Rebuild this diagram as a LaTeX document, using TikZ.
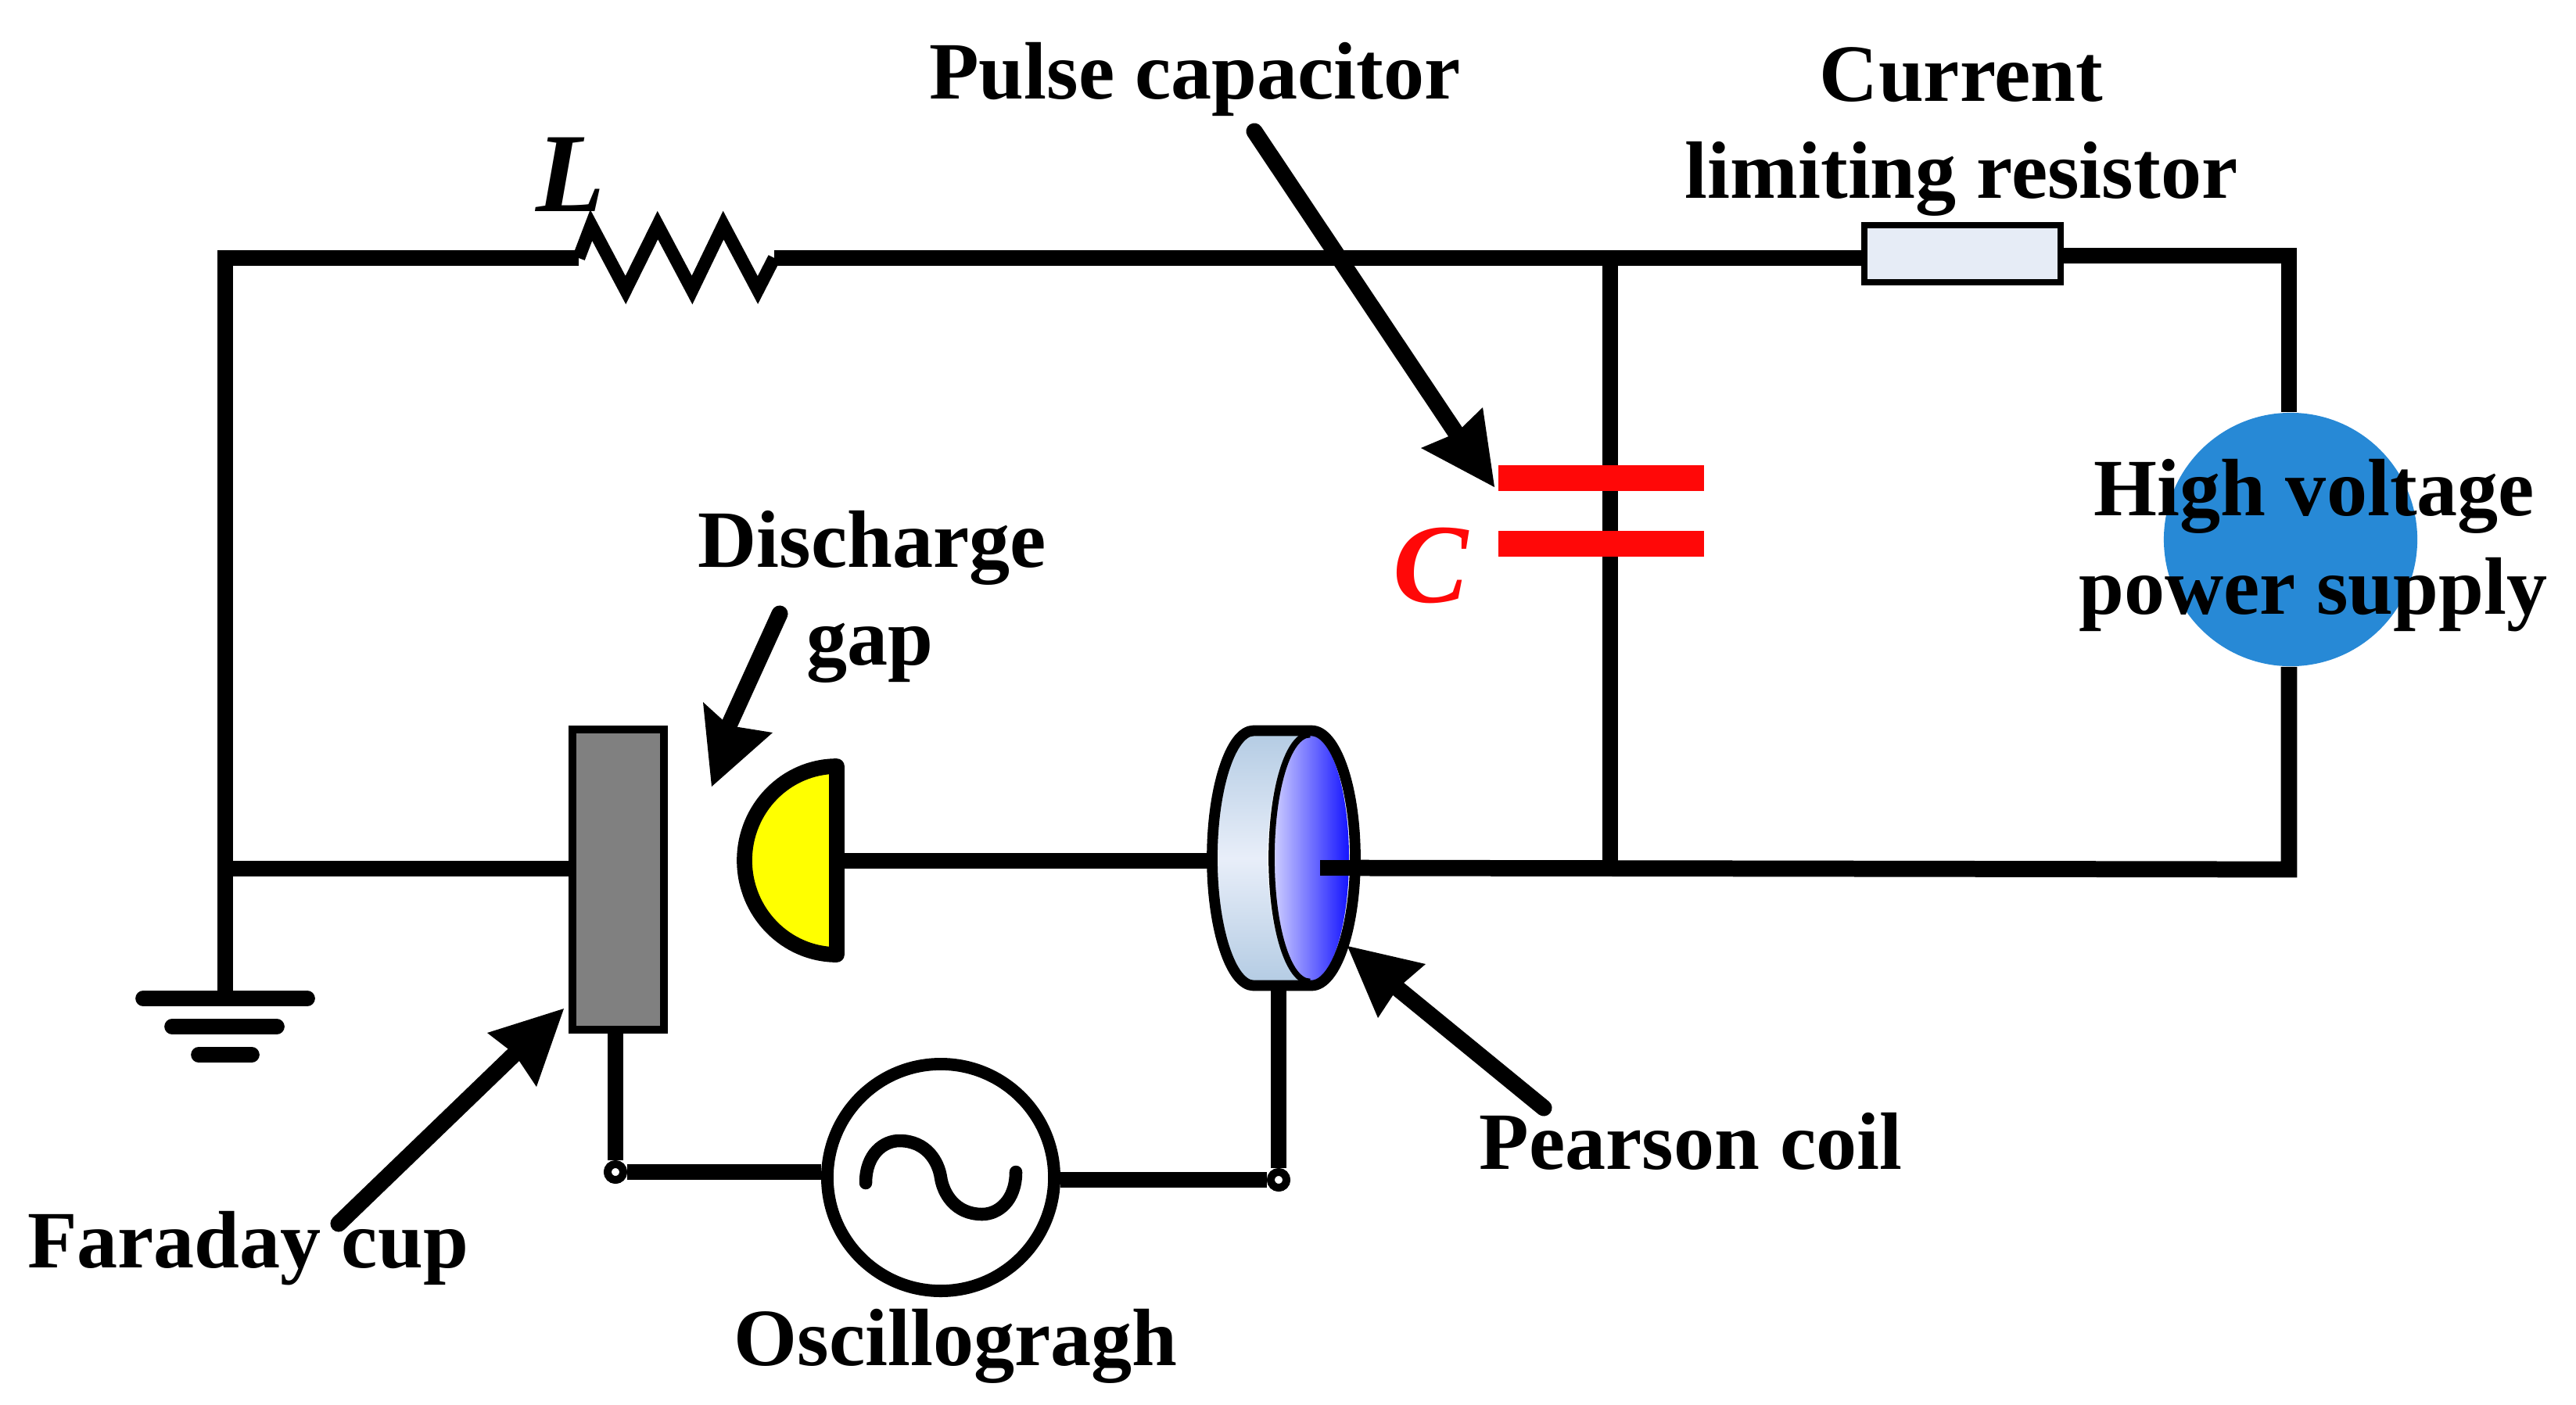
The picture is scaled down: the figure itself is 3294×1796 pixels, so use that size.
\documentclass[tikz,border=0pt]{standalone}
\usepackage{fontspec}
\setmainfont{Liberation Serif}
\definecolor{hvblue}{HTML}{2789D6}
\definecolor{resfill}{HTML}{E6ECF6}
\definecolor{coldark}{HTML}{B3CBE3}
\definecolor{collight}{HTML}{E8EEF9}
\definecolor{blueL}{HTML}{D4D4FF}
\definecolor{blueR}{HTML}{1414FF}
\definecolor{capred}{HTML}{FF0808}
\definecolor{gapyellow}{HTML}{FFFF00}
\tikzset{
 x=0.01cm,y=-0.01cm,
 wire/.style={line width=5.9pt,line join=miter,line cap=butt},
 coilwire/.style={line width=4.7pt,line join=miter,miter limit=10,line cap=butt},
 gbar/.style={line width=5.6pt,line cap=round},
 lbl/.style={font=\fontsize{29.6pt}{35.5pt}\selectfont\bfseries,inner sep=0pt,align=center,text=black,anchor=base},
 sym/.style={font=\fontsize{41pt}{41pt}\selectfont\bfseries\itshape,inner sep=0pt,anchor=base},
 head/.style={fill=black,draw=none},
 shaft/.style={line width=6pt,line cap=round},
 plate/.style={fill=capred,draw=none,minimum width=2.63cm,minimum height=0.33cm,inner sep=0pt},
 dot/.style={circle,draw=black,fill=white,line width=2.8pt,minimum size=0.2cm,inner sep=0pt},
}
\begin{document}
\begin{tikzpicture}
\useasboundingbox (0,0) rectangle (3294,1796);
% coordinates
\coordinate (tl) at (288,330);
\coordinate (lind) at (740,330);
\coordinate (rind) at (990,330);
\coordinate (tjun) at (2059,330);
\coordinate (bjun) at (2059,1110);
\coordinate (tr) at (2927,327);
\coordinate (br) at (2927,1112);
\coordinate (gnd) at (288,1277);
\coordinate (bl) at (288,1111);
\coordinate (gapR) at (1079,1101);
\coordinate (coilL) at (1550,1101);
\coordinate (coilIn) at (1688,1110);
\coordinate (coilB) at (1637,1262);
% wires
\draw[wire] (lind) -- (tl) -- (gnd);
\draw[coilwire] (lind) -- (756,288) -- (800,371) -- (841,288) -- (885,371) -- (925,288) -- (969,371) -- (rind);
\node[circle,fill=hvblue,minimum size=3.24cm,inner sep=0pt] (hv) at (2929,690) {};
\node[draw=black,line width=2.3pt,fill=resfill,minimum width=2.51cm,minimum height=0.73cm,inner sep=0pt] (rlim) at (2509.5,324.5) {};
\draw[wire] (rind) -- (tjun) -- (rlim.west|-tjun);
\draw[wire] (rlim.east|-tr) -- (tr) -- (hv.north-|tr);
\draw[wire] (tjun) -- (bjun);
\draw[wire] (hv.south-|br) -- (br) -- (coilIn);
\draw[wire] (bl) -- (727,1111);
\draw[wire] (gapR) -- (coilL);
% capacitor
\node[plate] (c1) at (2047.5,611.5) {};
\node[plate] (c2) at (2047.5,695.5) {};
\node[sym,text=capred] (clbl) at (1830,770) {C};
% ground
\draw[gbar] (183,1277) -- (393,1277);
\draw[gbar] (220,1313) -- (354,1313);
\draw[gbar] (254,1349) -- (322,1349);
% Faraday cup
\node[draw=black,line width=2.8pt,fill=black!50,minimum width=1.17cm,minimum height=3.84cm,inner sep=0pt] (cup) at (790.5,1125) {};
% discharge electrode
\draw[line width=5.6pt,line join=round,fill=gapyellow] (1070,980) -- (1070,1221) .. controls (1005,1221) and (952,1167) .. (952,1100.5) .. controls (952,1034) and (1005,980) .. (1070,980) -- cycle;
% Pearson coil
\shade[top color=coldark,bottom color=coldark,middle color=collight] (1603,934.5) -- (1677,934.5) .. controls (1708,934.5) and (1733,1007.5) .. (1733,1097.5) .. controls (1733,1187.5) and (1708,1260.5) .. (1677,1260.5) -- (1603,1260.5) .. controls (1574,1260.5) and (1550,1187.5) .. (1550,1097.5) .. controls (1550,1007.5) and (1574,934.5) .. (1603,934.5) -- cycle;
\fill[white] (1677,1097.5) ellipse (56 and 163);
\shade[left color=blueL,right color=blueR] (1675,1097.5) ellipse (50 and 158);
\draw[line width=2.2pt] (1675,939.5) .. controls (1647,939.5) and (1626,1010) .. (1626,1097.5) .. controls (1626,1185) and (1647,1255.5) .. (1675,1255.5);
\draw[line width=3.9pt] (1603,934.5) -- (1677,934.5) .. controls (1708,934.5) and (1733,1007.5) .. (1733,1097.5) .. controls (1733,1187.5) and (1708,1260.5) .. (1677,1260.5) -- (1603,1260.5) .. controls (1574,1260.5) and (1550,1187.5) .. (1550,1097.5) .. controls (1550,1007.5) and (1574,934.5) .. (1603,934.5) -- cycle;
\draw[wire] (coilIn) -- (1745,1110);
% oscillograph loop
\node[dot] (dl) at (787,1499) {};
\node[dot] (dr) at (1635,1509) {};
\node[circle,draw=black,line width=4.5pt,fill=white,minimum size=2.9cm,inner sep=0pt] (osc) at (1203,1506) {};
\draw[wire] (dl|-cup.south) -- (dl);
\draw[wire] (dl) -- (osc.west|-dl);
\draw[wire] (dr|-coilB) -- (dr);
\draw[wire] (dr) -- (osc.east|-dr);
\node[dot] at (dl) {};
\node[dot] at (dr) {};
\draw[line width=4.7pt,line cap=round] (1107,1513) .. controls (1107,1476) and (1130,1459) .. (1150,1459) .. controls (1185,1459) and (1200,1486) .. (1203,1506) .. controls (1206,1526) and (1221,1553) .. (1256,1553) .. controls (1276,1553) and (1299,1536) .. (1299,1499);
% pointer arrows
\coordinate (pT) at (1604,168); \coordinate (pN) at (1862,554);
\draw[shaft] (pT) -- (pN);
\fill[head] (1911,623) -- (1817,573) -- (pN) -- (1896,521) -- cycle;
\coordinate (gT) at (997,785); \coordinate (gN) at (932,928);
\draw[shaft] (gT) -- (gN);
\fill[head] (910,1006) -- (899,898) -- (gN) -- (988,937) -- cycle;
\coordinate (fT) at (433,1565); \coordinate (fN) at (658,1348);
\draw[shaft] (fT) -- (fN);
\fill[head] (721,1290) -- (623,1321) -- (fN) -- (686,1390) -- cycle;
\coordinate (eT) at (1974,1417); \coordinate (eN) at (1787,1264);
\draw[shaft] (eT) -- (eN);
\fill[head] (1723,1210) -- (1823,1233) -- (eN) -- (1762,1302) -- cycle;
% labels
\node[sym] (lL) at (730,270) {L};
\node[lbl] (t1) at (1528,126) {Pulse capacitor};
\node[lbl] (t2) at (2508,129) {Current};
\node[lbl] (t2b) at (2508,253) {limiting resistor};
\node[lbl] (t3) at (2959,659) {High voltage};
\node[lbl] (t3b) at (2958,785) {power supply};
\node[lbl] (t4) at (1115,725) {Discharge};
\node[lbl] (t4b) at (1112,850) {gap};
\node[lbl] (t5) at (317,1621) {Faraday cup};
\node[lbl] (t6) at (1222,1746) {Oscillogragh};
\node[lbl] (t7) at (2162,1495) {Pearson coil};
\end{tikzpicture}
\end{document}
